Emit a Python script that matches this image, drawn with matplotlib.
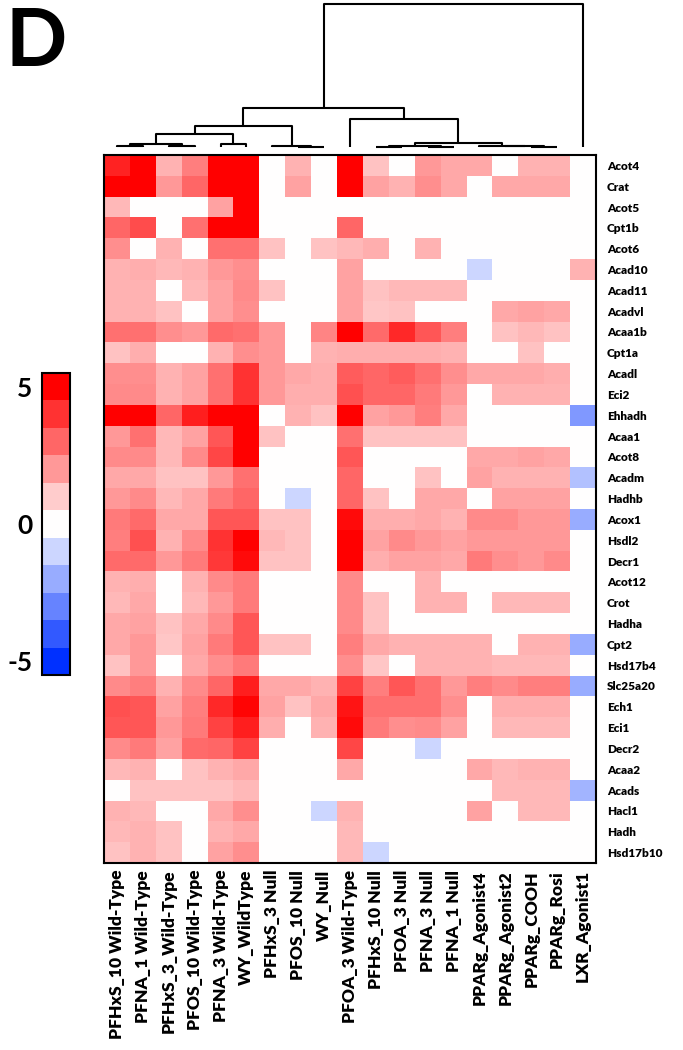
import numpy as np
import matplotlib
matplotlib.use("Agg")
import matplotlib.pyplot as plt
from matplotlib.colors import LinearSegmentedColormap, ListedColormap, BoundaryNorm
from matplotlib.cm import ScalarMappable
from matplotlib.ticker import NullLocator

plt.rcParams['font.family'] = ['Lato', 'DejaVu Sans']
plt.rcParams['axes.unicode_minus'] = False

samples = ["PFHxS_10 Wild-Type", "PFNA_1 Wild-Type", "PFHxS_3_Wild-Type", "PFOS_10 Wild-Type",
           "PFNA_3 Wild-Type", "WY_WildType", "PFHxS_3 Null", "PFOS_10 Null", "WY_Null",
           "PFOA_3 Wild-Type", "PFHxS_10 Null", "PFOA_3 Null", "PFNA_3 Null", "PFNA_1 Null",
           "PPARg_Agonist4", "PPARg_Agonist2", "PPARg_COOH", "PPARg_Rosi", "LXR_Agonist1"]

genes = ["Acot4", "Crat", "Acot5", "Cpt1b", "Acot6", "Acad10", "Acad11", "Acadvl", "Acaa1b",
         "Cpt1a", "Acadl", "Eci2", "Ehhadh", "Acaa1", "Acot8", "Acadm", "Hadhb", "Acox1",
         "Hsdl2", "Decr1", "Acot12", "Crot", "Hadha", "Cpt2", "Hsd17b4", "Slc25a20", "Ech1",
         "Eci1", "Decr2", "Acaa2", "Acads", "Hacl1", "Hadh", "Hsd17b10"]

# log fold change per gene (rows) and sample (columns)
values = [
    [4.3, 5, 1.5, 2.5, 5, 5, 0, 1.5, 0, 5, 1.2, 0, 2, 1.7, 1.7, 0, 1.5, 1.5, 0],
    [5, 5, 2, 3, 5, 5, 0, 1.8, 0, 5, 1.8, 1.5, 2.2, 1.7, 0, 1.7, 1.7, 1.7, 0],
    [1.4, 0, 0, 0, 1.8, 5, 0, 0, 0, 0, 0, 0, 0, 0, 0, 0, 0, 0, 0],
    [3, 3.5, 0, 2.8, 5, 5, 0, 0, 0, 3, 0, 0, 0, 0, 0, 0, 0, 0, 0],
    [2.2, 0, 1.5, 0, 2.8, 2.8, 1.2, 0, 1.2, 1.4, 1.6, 0, 1.5, 0, 0, 0, 0, 0, 0],
    [1.5, 1.6, 1.4, 1.5, 2, 2.2, 0, 0, 0, 1.8, 0, 0, 0, 0, -1, 0, 0, 0, 1.5],
    [1.5, 1.5, 0, 1.4, 1.8, 2.3, 1.2, 0, 0, 1.8, 1.2, 1.4, 1.4, 1.4, 0, 0, 0, 0, 0],
    [1.5, 1.5, 1.2, 0, 1.8, 2.2, 0, 0, 0, 1.8, 1.1, 1.2, 0, 0, 0, 1.7, 1.8, 1.7, 0],
    [2.8, 2.8, 2.2, 2, 2.9, 2.8, 2, 0, 2.4, 5, 2.9, 4.2, 3.3, 2.5, 0, 1.2, 1.4, 1.2, 0],
    [1.2, 1.6, 0, 0, 1.5, 2.2, 2, 0, 1.5, 1.6, 1.6, 1.6, 1.6, 1.5, 0, 0, 1.2, 0, 0],
    [2.2, 2.2, 1.5, 1.8, 2.8, 4, 2, 1.7, 1.6, 3.2, 3, 3.2, 2.8, 2.2, 1.7, 1.7, 1.7, 1.6, 0],
    [2.3, 2.3, 1.5, 1.8, 2.8, 4, 2, 1.6, 1.6, 3.4, 3, 3, 2.6, 2, 0, 1.5, 1.5, 1.5, 0],
    [5, 5, 3, 4.4, 5, 5, 0, 1.5, 1.2, 5, 1.8, 2, 2.5, 1.7, 0, 0, 0, 0, -2.5],
    [2, 2.8, 1.4, 1.8, 3.3, 5, 1.2, 0, 0, 2.8, 1.2, 1.2, 1.2, 1.2, 0, 0, 0, 0, 0],
    [2.3, 2.3, 1.4, 2.3, 3.6, 5, 0, 0, 0, 3.3, 0, 0, 0, 0, 1.7, 1.7, 1.8, 1.7, 0],
    [1.7, 1.7, 1.2, 1.2, 2, 2.8, 0, 0, 0, 3, 0, 0, 1.2, 0, 1.8, 1.5, 1.5, 1.5, -1.5],
    [2, 2.3, 1.4, 1.7, 2.6, 3, 0, -1, 0, 3, 1.2, 0, 1.7, 1.7, 0, 1.8, 1.8, 1.8, 0],
    [2.6, 2.9, 1.7, 1.7, 3.3, 3.3, 1.2, 1.2, 0, 4.8, 1.6, 1.6, 1.7, 1.5, 2.3, 2.3, 2, 2, -2],
    [2.5, 3.4, 1.5, 2.3, 4, 5, 1.4, 1.2, 0, 5, 1.8, 2.3, 2, 1.8, 2, 2, 2, 2, 0],
    [2.9, 2.9, 2, 2.6, 3.9, 4.8, 1.2, 1.2, 0, 5, 1.6, 1.8, 1.8, 1.7, 2.6, 2.2, 2, 2.3, 0],
    [1.5, 1.6, 0, 1.5, 2.3, 2.6, 0, 0, 0, 2.3, 0, 0, 1.5, 0, 0, 0, 0, 0, 0],
    [1.4, 1.7, 0, 1.4, 2, 2.6, 0, 0, 0, 2.3, 1.2, 0, 1.5, 1.5, 0, 1.4, 1.4, 1.4, 0],
    [1.7, 1.8, 1.2, 1.7, 2.3, 3.3, 0, 0, 0, 2.3, 1.2, 0, 0, 0, 0, 0, 0, 0, 0],
    [1.7, 2, 1.1, 1.8, 2.6, 3.3, 1.2, 1.2, 0, 2.5, 1.7, 1.5, 1.5, 1.5, 1.5, 0, 1.5, 1.5, -2],
    [1.2, 2, 0, 1.7, 2.2, 2.6, 0, 0, 0, 2.2, 1.1, 0, 1.5, 1.5, 1.5, 1.4, 1.4, 1.4, 0],
    [2.3, 2.5, 1.5, 2.3, 3, 4.4, 1.7, 1.7, 1.5, 3.7, 2.5, 3.3, 2.8, 2, 2.5, 2.3, 2.5, 2.5, -2],
    [3.4, 3.3, 1.8, 2.5, 4.2, 4.9, 1.8, 1.2, 1.7, 4.6, 2.8, 2.8, 2.8, 2.2, 0, 1.6, 1.6, 1.6, 0],
    [3.3, 3.3, 2, 2.6, 3.7, 4.4, 1.6, 0, 1.5, 4.8, 2.6, 2.2, 2.3, 1.8, 0, 1.4, 1.4, 1.4, 0],
    [2.3, 2.6, 1.8, 2.9, 3, 3.7, 0, 0, 0, 3.6, 0, 0, -1, 0, 0, 0, 0, 0, 0],
    [1.4, 1.5, 0, 1.2, 1.5, 1.7, 0, 0, 0, 1.7, 0, 0, 0, 0, 1.7, 1.4, 1.5, 1.5, 0],
    [0, 1.2, 1.2, 1.2, 1.2, 1.4, 0, 0, 0, 0, 0, 0, 0, 0, 0, 1.4, 1.4, 1.4, -1.8],
    [1.5, 1.4, 0, 0, 1.7, 2.2, 0, 0, -1, 1.5, 0, 0, 0, 0, 1.8, 0, 1.4, 1.4, 0],
    [1.4, 1.5, 1.2, 0, 1.5, 1.7, 0, 0, 0, 1.4, 0, 0, 0, 0, 0, 0, 0, 0, 0],
    [1.2, 1.5, 1.2, 0, 1.8, 2.2, 0, 0, 0, 1.4, -1, 0, 0, 0, 0, 0, 0, 0, 0],
]

# column dendrogram merges: (left id, right id, height); new ids start at 19
merges = [
    (0, 1, 0.6), (2, 3, 0.6), (19, 20, 3), (4, 5, 3), (21, 22, 13),
    (7, 8, 0.4), (6, 24, 0.7), (23, 25, 21),
    (10, 11, 0.4), (12, 13, 0.4), (27, 28, 0.7),
    (16, 17, 0.4), (15, 30, 0.6), (14, 31, 0.8), (29, 32, 4),
    (9, 33, 28), (26, 34, 39), (35, 18, 143.5),
]

data = np.array(values)
nrow, ncol = data.shape

cmap = LinearSegmentedColormap.from_list(
    "bwr_custom", [(0.0, (0.0, 0.19, 1.0)), (0.5, (1, 1, 1)), (1.0, (1, 0, 0))])

fig = plt.figure(figsize=(6.83, 10.5), dpi=100)
W, H = 683, 1050

# heatmap
ax = fig.add_axes([104 / W, 1 - 863 / H, 492 / W, 708 / H])
ax.pcolormesh(np.arange(ncol + 1), np.arange(nrow + 1), data, cmap=cmap, vmin=-5, vmax=5)
ax.set_xlim(0, ncol)
ax.set_ylim(nrow, 0)
ax.yaxis.tick_right()
ax.set_yticks(np.arange(nrow) + 0.5)
ax.set_yticklabels(genes, fontsize=8.5, fontweight='heavy')
ax.set_xticks(np.arange(ncol) + 0.5)
ax.set_xticklabels(samples, rotation=90, fontsize=12.5, fontweight='heavy', va='top')
ax.tick_params(length=0)
ax.tick_params(axis='y', pad=8)
ax.tick_params(axis='x', pad=5)
for s in ax.spines.values():
    s.set_linewidth(1.5)

# dendrogram
dax = fig.add_axes([104 / W, 1 - 147 / H, 492 / W, 146 / H])
pos = {i: (i + 0.5, 0.0) for i in range(ncol)}
for k, (a, b, h) in enumerate(merges):
    xa, ha = pos[a]
    xb, hb = pos[b]
    dax.plot([xa, xa, xb, xb], [ha, h, h, hb], color='black', lw=1.5,
             solid_capstyle='butt', clip_on=False)
    pos[ncol + k] = ((xa + xb) / 2, h)
dax.set_xlim(0, ncol)
dax.set_ylim(0, 146)
dax.axis('off')

# discrete colorbar
levels = np.arange(-5, 6)
cb_cmap = ListedColormap(cmap((levels + 5) / 10))
cb_norm = BoundaryNorm(np.arange(-5.5, 6.5, 1), cb_cmap.N)
cax = fig.add_axes([42 / W, 1 - 675 / H, 27.5 / W, 302 / H])
cb = fig.colorbar(ScalarMappable(norm=cb_norm, cmap=cb_cmap), cax=cax, ticks=[-5, 0, 5])
cb.outline.set_linewidth(1.5)
cax.yaxis.set_minor_locator(NullLocator())
cax.yaxis.set_ticks_position('left')
cax.set_yticklabels(['-5', '0', '5'])
cax.tick_params(length=0, pad=7, labelsize=19)
for t in cax.get_yticklabels():
    t.set_fontweight('bold')

fig.text(6 / W, 1 - 6 / H, "D", fontsize=58, fontweight='bold', ha='left', va='top')

fig.savefig("out.png", dpi=100)
